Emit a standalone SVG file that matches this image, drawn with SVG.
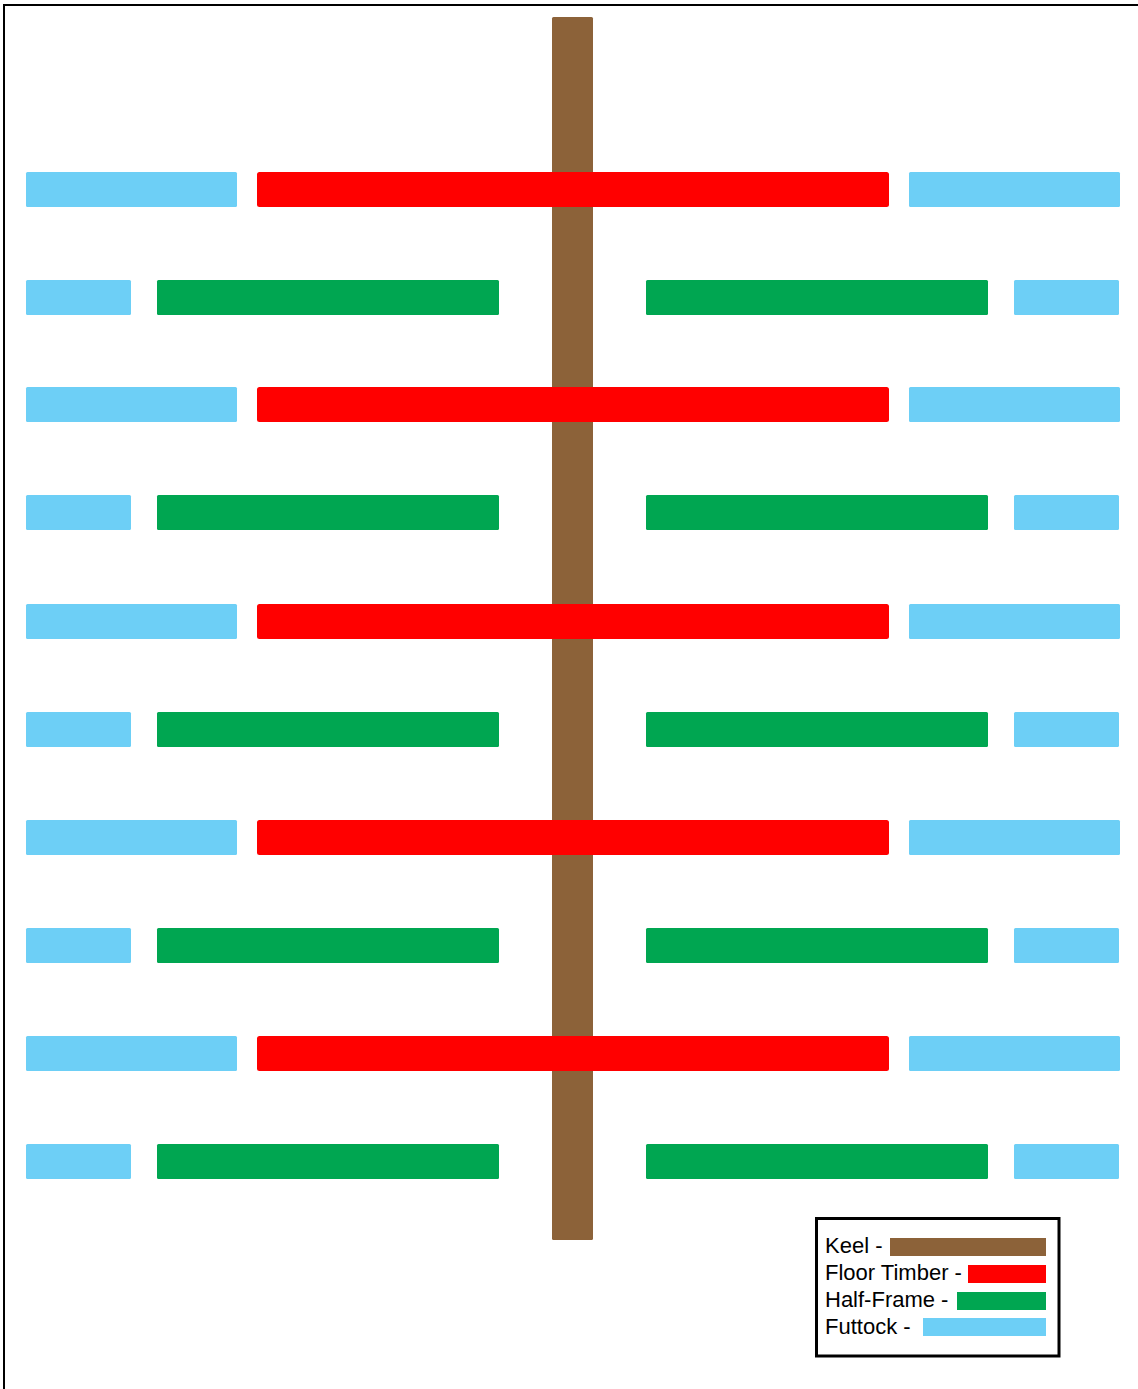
<svg xmlns="http://www.w3.org/2000/svg" width="1138" height="1389" viewBox="0 0 1138 1389">
<style>
.keel{fill:#8C6239}
.ft{fill:#FF0000}
.hf{fill:#00A651}
.fu{fill:#6DCFF6}
.lbl{font-family:"Liberation Sans",Arial,sans-serif;font-size:22px;fill:#000}
</style>
<rect width="1138" height="1389" fill="#fff"/>
<rect x="4" y="5" width="1150" height="1400" fill="none" stroke="#000" stroke-width="2"/>
<g id="keel"><rect class="keel" x="552" y="17" width="41" height="1223" rx="1.5"/></g>
<g id="row1"><rect class="fu" x="26" y="172" width="211" height="35" rx="1.5"/><rect class="ft" x="257" y="172" width="632" height="35" rx="2.5"/><rect class="fu" x="909" y="172" width="211" height="35" rx="1.5"/></g>
<g id="row2"><rect class="fu" x="26" y="280" width="105" height="35" rx="1.5"/><rect class="hf" x="157" y="280" width="342" height="35" rx="1.5"/><rect class="hf" x="646" y="280" width="342" height="35" rx="1.5"/><rect class="fu" x="1014" y="280" width="105" height="35" rx="1.5"/></g>
<g id="row3"><rect class="fu" x="26" y="387" width="211" height="35" rx="1.5"/><rect class="ft" x="257" y="387" width="632" height="35" rx="2.5"/><rect class="fu" x="909" y="387" width="211" height="35" rx="1.5"/></g>
<g id="row4"><rect class="fu" x="26" y="495" width="105" height="35" rx="1.5"/><rect class="hf" x="157" y="495" width="342" height="35" rx="1.5"/><rect class="hf" x="646" y="495" width="342" height="35" rx="1.5"/><rect class="fu" x="1014" y="495" width="105" height="35" rx="1.5"/></g>
<g id="row5"><rect class="fu" x="26" y="604" width="211" height="35" rx="1.5"/><rect class="ft" x="257" y="604" width="632" height="35" rx="2.5"/><rect class="fu" x="909" y="604" width="211" height="35" rx="1.5"/></g>
<g id="row6"><rect class="fu" x="26" y="712" width="105" height="35" rx="1.5"/><rect class="hf" x="157" y="712" width="342" height="35" rx="1.5"/><rect class="hf" x="646" y="712" width="342" height="35" rx="1.5"/><rect class="fu" x="1014" y="712" width="105" height="35" rx="1.5"/></g>
<g id="row7"><rect class="fu" x="26" y="820" width="211" height="35" rx="1.5"/><rect class="ft" x="257" y="820" width="632" height="35" rx="2.5"/><rect class="fu" x="909" y="820" width="211" height="35" rx="1.5"/></g>
<g id="row8"><rect class="fu" x="26" y="928" width="105" height="35" rx="1.5"/><rect class="hf" x="157" y="928" width="342" height="35" rx="1.5"/><rect class="hf" x="646" y="928" width="342" height="35" rx="1.5"/><rect class="fu" x="1014" y="928" width="105" height="35" rx="1.5"/></g>
<g id="row9"><rect class="fu" x="26" y="1036" width="211" height="35" rx="1.5"/><rect class="ft" x="257" y="1036" width="632" height="35" rx="2.5"/><rect class="fu" x="909" y="1036" width="211" height="35" rx="1.5"/></g>
<g id="row10"><rect class="fu" x="26" y="1144" width="105" height="35" rx="1.5"/><rect class="hf" x="157" y="1144" width="342" height="35" rx="1.5"/><rect class="hf" x="646" y="1144" width="342" height="35" rx="1.5"/><rect class="fu" x="1014" y="1144" width="105" height="35" rx="1.5"/></g>
<g id="legend">
<rect x="816.5" y="1218.5" width="242.5" height="137.5" fill="#fff" stroke="#000" stroke-width="3"/>
<text class="lbl" x="825" y="1253">Keel -</text>
<rect class="keel" x="890" y="1238" width="156" height="18"/>
<text class="lbl" x="825" y="1280">Floor Timber -</text>
<rect class="ft" x="968" y="1265" width="78" height="18"/>
<text class="lbl" x="825" y="1307">Half-Frame -</text>
<rect class="hf" x="957" y="1292" width="89" height="18"/>
<text class="lbl" x="825" y="1334">Futtock -</text>
<rect class="fu" x="923" y="1318" width="123" height="18"/>
</g>
<g id="connectors"/>
</svg>
